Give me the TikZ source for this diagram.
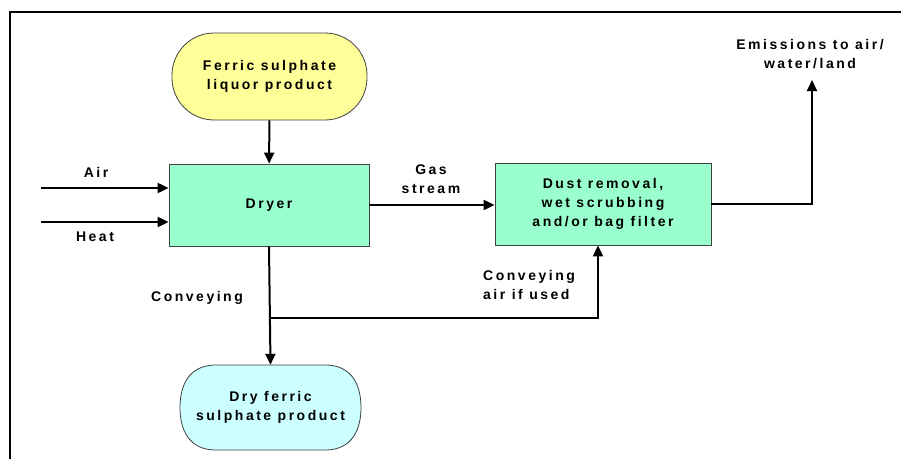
\documentclass[tikz,border=0pt]{standalone}
\usepackage{fontspec}
\setmainfont{Liberation Sans}[LetterSpace=18]
\usetikzlibrary{arrows.meta}
\definecolor{yel}{HTML}{FFFF99}
\definecolor{grn}{HTML}{99FFCC}
\definecolor{cyn}{HTML}{CCFFFF}
\tikzset{
  box/.style={draw=black!75, line width=0.8pt, align=center, inner sep=0pt},
  arr/.style={line width=2pt, -{Triangle[length=11pt,width=10pt]}},
  lbl/.style={align=center, inner sep=0pt},
}
\begin{document}
\begin{tikzpicture}[x=1pt,y=-1pt, font=\fontsize{14}{19}\selectfont\bfseries]
\useasboundingbox (0,0) rectangle (901,458);
\draw[line width=2pt] (9.5,460) -- (9.5,12) -- (903,12);

\node[box, fill=yel, rounded corners=42pt, minimum width=195pt, minimum height=87pt] (feed) at (269.5,76.5) {Ferric sulphate\\liquor product};
\node[box, fill=grn, minimum width=200pt, minimum height=82pt] (dryer) at (269,205) {Dryer};
\node[box, fill=grn, minimum width=216pt, minimum height=82pt] (dust) at (603,204) {Dust removal,\\wet scrubbing\\and/or bag filter};

\draw[box, fill=cyn] (214,365) -- (327,365) .. controls (352,366) and (361,385) .. (361,407.5) .. controls (361,430) and (352,449) .. (327,450) -- (214,450) .. controls (189,449) and (180,430) .. (180,407.5) .. controls (180,385) and (189,366) .. (214,365);
\node[lbl, minimum width=181pt, minimum height=85pt] (dry) at (270.5,407.5) {Dry ferric\\sulphate product};

\draw[arr] (feed) -- (dryer);

\coordinate (airin) at (41,188);
\coordinate (heatin) at (41,222);
\draw[arr] (airin) -- (airin -| dryer.west);
\draw[arr] (heatin) -- (heatin -| dryer.west);
\node[lbl] (airl) at (96,172) {Air};
\node[lbl] (heatl) at (95,237) {Heat};

\draw[arr] (dryer.east) -- (dryer.east -| dust.west);
\node[lbl] (gasl) at (431,179) {Gas\\stream};

\coordinate (em) at (812,80);
\draw[arr] (dust.east) -| (em);
\node[lbl] (emlbl) at (810,54) {Emissions to air/\\water/land};

\coordinate (split) at (269,318);
\coordinate (cair) at (598,318);
\draw[arr] (dryer.south) -- (dry.north);
\draw[arr] (split) -- (cair) -- (cair |- dust.south);
\node[lbl] (convl) at (197,298) {Conveying};
\node[lbl, align=left, anchor=west] (cairl) at (483,285) {Conveying\\air if used};
\end{tikzpicture}
\end{document}
